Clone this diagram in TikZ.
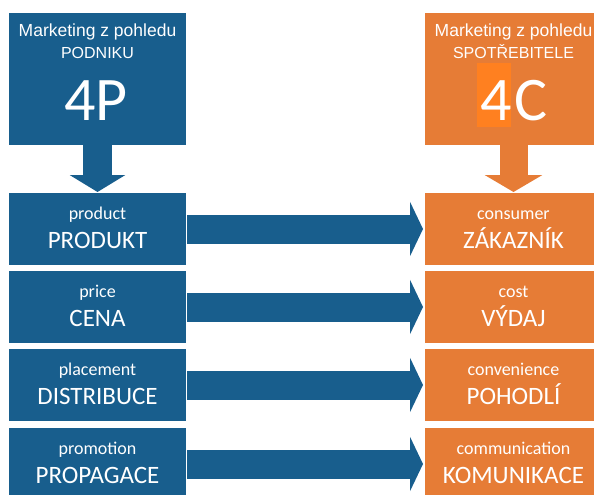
\documentclass[tikz,border=0pt]{standalone}
\usepackage{fontspec}
\setmainfont{Carlito}
\newfontfamily\headfont{Liberation Sans}
\usetikzlibrary{arrows.meta}
\definecolor{blue4p}{RGB}{24,94,141}
\definecolor{orange4c}{RGB}{230,124,54}
\definecolor{hl4c}{RGB}{255,128,32}

\begin{document}
\begin{tikzpicture}[x=1pt, y=-1pt,
    box/.style={fill=#1, minimum width=177pt, inner sep=0pt, outer sep=0pt},
    small/.style={text=white, anchor=base, font=\fontsize{18}{18}\selectfont},
    big/.style={text=white, anchor=base, font=\fontsize{25}{25}\selectfont},
    head/.style={text=white, anchor=base, font=\headfont\fontsize{17.5}{18}\selectfont},
    fat/.style={draw=#1, line width=29pt, -{Triangle[length=13pt, width=54pt]}}]
  \useasboundingbox (0,0) rectangle (594,495);
  % headers
  \node[box=blue4p, minimum height=132pt] (hdp) at (97.5,79) {};
  \node[box=orange4c, minimum height=132pt] (hdc) at (513.5,79) {};
  \fill[hl4c] (477,63) rectangle (511,127);
  \node[head] (hdp1) at (97.5,37) {Marketing z pohledu};
  \node[head, font=\headfont\fontsize{16}{16}\selectfont] (hdp2) at (97.5,59) {PODNIKU};
  \node[big, font=\fontsize{62}{62}\selectfont] (hdp3) at (96,120) {4P};
  \node[head] (hdc1) at (513.5,37) {Marketing z pohledu};
  \node[head, font=\headfont\fontsize{16}{16}\selectfont] (hdc2) at (513.5,59) {SPOTŘEBITELE};
  \node[big, font=\fontsize{62}{62}\selectfont] (hdc3) at (514,120) {4\kern2ptC};
  % rows
  \foreach \name/\y/\sp/\bp/\sc/\bc in {prod/229/product/PRODUKT/consumer/ZÁKAZNÍK,
      price/307/price/CENA/cost/VÝDAJ,
      place/385/placement/DISTRIBUCE/convenience/POHODLÍ,
      promo/464/promotion/PROPAGACE/communication/KOMUNIKACE} {
    \node[box=blue4p, minimum height=72pt] (\name p) at (97.5,\y) {};
    \node[box=orange4c, minimum height=72pt] (\name c) at (513.5,\y) {};
    \node[small] (\name ps) at (97.5,\y-10) {\sp};
    \node[big] (\name pb) at (97.5,\y+19) {\bp};
    \node[small] (\name cs) at (513.5,\y-10) {\sc};
    \node[big] (\name cb) at (513.5,\y+19) {\bc};
    \draw[fat=blue4p, shorten <=1pt, shorten >=2pt] (\name p.east) -- (\name c.west);
  }
  % down arrows
  \draw[fat=blue4p, -{Triangle[length=17pt, width=55pt]}, shorten >=1pt] (hdp.south) -- (prodp.north);
  \draw[fat=orange4c, -{Triangle[length=17pt, width=57pt]}, line width=28pt, shorten >=1pt] (hdc.south) -- (prodc.north);
\end{tikzpicture}
\end{document}
